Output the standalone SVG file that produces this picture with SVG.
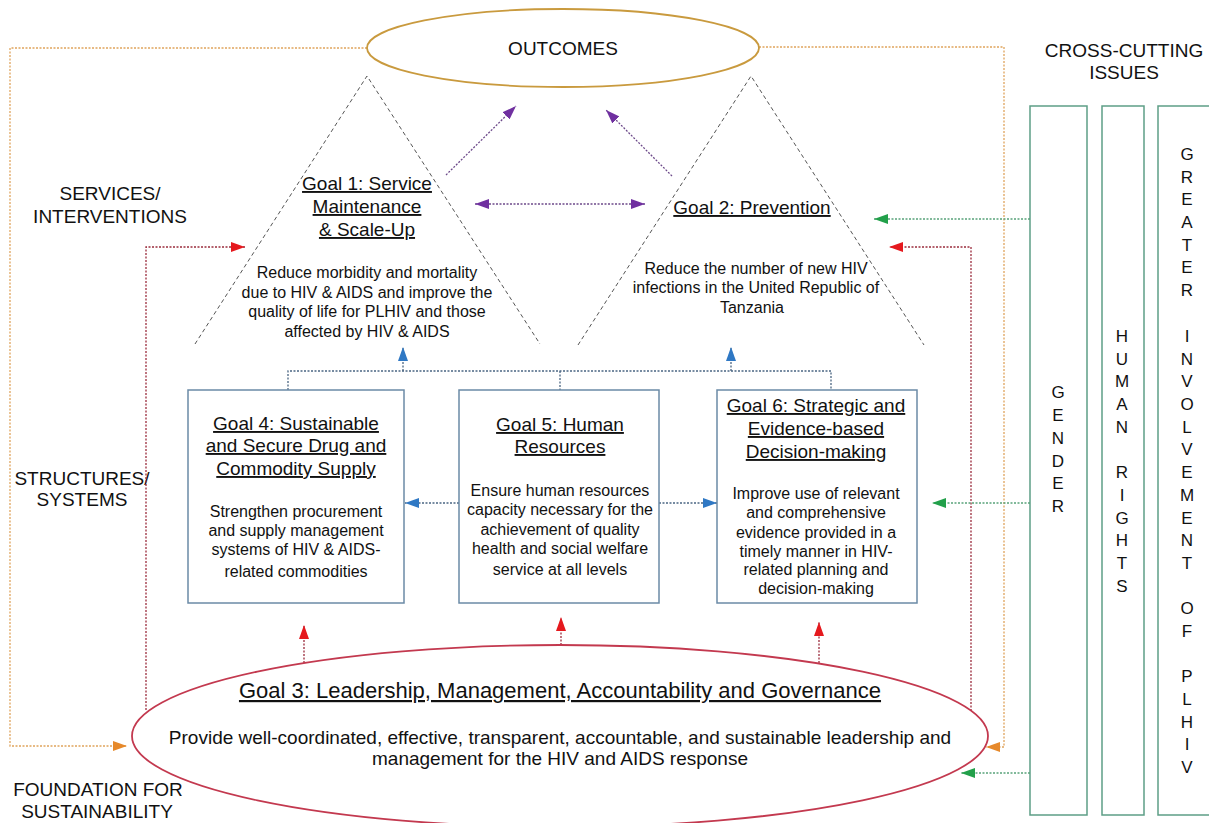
<svg xmlns="http://www.w3.org/2000/svg" width="1209" height="823" viewBox="0 0 1209 823">
  <style>
    text { font-family: "Liberation Sans", Arial, sans-serif; fill: #111; text-anchor: middle; }
    .lbl { font-size: 19px; }
    .ttl { font-size: 19px; text-decoration: underline; }
    .body { font-size: 16px; }
    .vert { font-size: 17px; }
    .tri { fill: none; stroke: #555; stroke-width: 1; stroke-dasharray: 4 3; }
    .box { fill: #fff; stroke: #6b8aa6; stroke-width: 1.5; }
    .issue { fill: #fff; stroke: #5d9e86; stroke-width: 1.5; }
    .dot { fill: none; stroke-width: 1.3; stroke-dasharray: 2 1.5; }
    .orange { stroke: #dfa45c; }
    .red { stroke: #9b2c3c; }
    .purple { stroke: #6d4a8a; }
    .blue { stroke: #4a6582; }
    .green { stroke: #58a27a; }
  </style>
  <defs>
    <marker id="ahOrange" viewBox="0 0 14 10" refX="14" refY="5" markerWidth="14" markerHeight="10" markerUnits="userSpaceOnUse" orient="auto-start-reverse">
      <path d="M0,0 L14,5 L0,10 z" fill="#e6892b"/>
    </marker>
    <marker id="ahRed" viewBox="0 0 14 10" refX="14" refY="5" markerWidth="14" markerHeight="10" markerUnits="userSpaceOnUse" orient="auto-start-reverse">
      <path d="M0,0 L14,5 L0,10 z" fill="#e5191e"/>
    </marker>
    <marker id="ahPurple" viewBox="0 0 14 10" refX="14" refY="5" markerWidth="14" markerHeight="10" markerUnits="userSpaceOnUse" orient="auto-start-reverse">
      <path d="M0,0 L14,5 L0,10 z" fill="#7030a0"/>
    </marker>
    <marker id="ahBlue" viewBox="0 0 14 10" refX="14" refY="5" markerWidth="14" markerHeight="10" markerUnits="userSpaceOnUse" orient="auto-start-reverse">
      <path d="M0,0 L14,5 L0,10 z" fill="#2f78c4"/>
    </marker>
    <marker id="ahGreen" viewBox="0 0 14 10" refX="14" refY="5" markerWidth="14" markerHeight="10" markerUnits="userSpaceOnUse" orient="auto-start-reverse">
      <path d="M0,0 L14,5 L0,10 z" fill="#22a04a"/>
    </marker>
  </defs>

  <rect x="0" y="0" width="1209" height="823" fill="#fff"/>

  <!-- side labels -->
  <g id="labels">
    <text class="lbl" x="110" y="200">SERVICES/</text>
    <text class="lbl" x="110" y="223">INTERVENTIONS</text>
    <text class="lbl" x="82" y="485">STRUCTURES/</text>
    <text class="lbl" x="82" y="506">SYSTEMS</text>
    <text class="lbl" x="98" y="796">FOUNDATION FOR</text>
    <text class="lbl" x="97" y="818">SUSTAINABILITY</text>
    <text class="lbl" x="1124" y="57">CROSS-CUTTING</text>
    <text class="lbl" x="1124" y="79">ISSUES</text>
  </g>

  <!-- cross-cutting issue columns -->
  <g id="gender">
    <rect class="issue" x="1030" y="106" width="57" height="709"/>
    <g class="vert">
      <text class="vert" x="1058" y="398">G</text>
      <text class="vert" x="1058" y="421">E</text>
      <text class="vert" x="1058" y="444">N</text>
      <text class="vert" x="1058" y="467">D</text>
      <text class="vert" x="1058" y="489">E</text>
      <text class="vert" x="1058" y="512">R</text>
    </g>
  </g>
  <g id="human-rights">
    <rect class="issue" x="1102" y="106" width="42" height="709"/>
    <text class="vert" x="1122" y="342">H</text>
    <text class="vert" x="1122" y="365">U</text>
    <text class="vert" x="1122" y="387">M</text>
    <text class="vert" x="1122" y="410">A</text>
    <text class="vert" x="1122" y="433">N</text>
    <text class="vert" x="1122" y="478">R</text>
    <text class="vert" x="1122" y="501">I</text>
    <text class="vert" x="1122" y="524">G</text>
    <text class="vert" x="1122" y="546">H</text>
    <text class="vert" x="1122" y="569">T</text>
    <text class="vert" x="1122" y="592">S</text>
  </g>
  <g id="greater-involvement">
    <rect class="issue" x="1158" y="106" width="60" height="709"/>
    <text class="vert" x="1187" y="160">G</text>
    <text class="vert" x="1187" y="183">R</text>
    <text class="vert" x="1187" y="205">E</text>
    <text class="vert" x="1187" y="228">A</text>
    <text class="vert" x="1187" y="251">T</text>
    <text class="vert" x="1187" y="273">E</text>
    <text class="vert" x="1187" y="296">R</text>
    <text class="vert" x="1187" y="342">I</text>
    <text class="vert" x="1187" y="365">N</text>
    <text class="vert" x="1187" y="387">V</text>
    <text class="vert" x="1187" y="410">O</text>
    <text class="vert" x="1187" y="433">L</text>
    <text class="vert" x="1187" y="455">V</text>
    <text class="vert" x="1187" y="478">E</text>
    <text class="vert" x="1187" y="501">M</text>
    <text class="vert" x="1187" y="524">E</text>
    <text class="vert" x="1187" y="546">N</text>
    <text class="vert" x="1187" y="569">T</text>
    <text class="vert" x="1187" y="614">O</text>
    <text class="vert" x="1187" y="637">F</text>
    <text class="vert" x="1187" y="682">P</text>
    <text class="vert" x="1187" y="705">L</text>
    <text class="vert" x="1187" y="728">H</text>
    <text class="vert" x="1187" y="750">I</text>
    <text class="vert" x="1187" y="773">V</text>
  </g>

  <!-- connectors -->
  <g id="connectors">
    <!-- outcomes loop back to the foundation -->
    <path class="dot orange" d="M367,48 H10 V746 H127" marker-end="url(#ahOrange)"/>
    <path class="dot orange" d="M759,47 H1004 V747 H986" marker-end="url(#ahOrange)"/>
    <!-- leadership feeding the service goals -->
    <path class="dot red" d="M146,710 V247 H245" marker-end="url(#ahRed)"/>
    <path class="dot red" d="M971,711 V247 H889" marker-end="url(#ahRed)"/>
    <path class="dot red" d="M304,663 V625" marker-end="url(#ahRed)"/>
    <path class="dot red" d="M561,645 V617" marker-end="url(#ahRed)"/>
    <path class="dot red" d="M819,663 V622" marker-end="url(#ahRed)"/>
    <!-- goals to outcomes -->
    <path class="dot purple" d="M446,175 L516,106" marker-end="url(#ahPurple)"/>
    <path class="dot purple" d="M672,176 L606,110" marker-end="url(#ahPurple)"/>
    <path class="dot purple" d="M475,204 H645" marker-start="url(#ahPurple)" marker-end="url(#ahPurple)"/>
    <!-- systems support the services -->
    <path class="dot blue" d="M288,390 V371 H831 V390"/>
    <path class="dot blue" d="M560,371 V390"/>
    <path class="dot blue" d="M403,371 V347" marker-end="url(#ahBlue)"/>
    <path class="dot blue" d="M731,371 V347" marker-end="url(#ahBlue)"/>
    <path class="dot blue" d="M459,503 H405" marker-end="url(#ahBlue)"/>
    <path class="dot blue" d="M659,503 H717" marker-end="url(#ahBlue)"/>
    <!-- cross-cutting issues -->
    <path class="dot green" d="M1030,219 H874" marker-end="url(#ahGreen)"/>
    <path class="dot green" d="M1030,503 H932" marker-end="url(#ahGreen)"/>
    <path class="dot green" d="M1030,773 H961" marker-end="url(#ahGreen)"/>
  </g>

  <g id="outcomes">
    <ellipse cx="563" cy="48" rx="196" ry="39" fill="none" stroke="#c99a3e" stroke-width="1.8"/>
    <text class="lbl" x="563" y="55">OUTCOMES</text>
  </g>

  <g id="goal1">
    <path class="tri" d="M195,344 L367,76 L540,344"/>
    <text class="ttl" x="367" y="190">Goal 1: Service</text>
    <text class="ttl" x="367" y="213">Maintenance</text>
    <text class="ttl" x="367" y="236"> &amp; Scale-Up</text>
    <text class="body" x="367" y="278">Reduce morbidity and mortality</text>
    <text class="body" x="367" y="298">due to HIV &amp; AIDS and improve the</text>
    <text class="body" x="367" y="317">quality of life for PLHIV and those</text>
    <text class="body" x="367" y="337">affected by HIV &amp; AIDS</text>
  </g>

  <g id="goal2">
    <path class="tri" d="M578,345 L751,76 L924,345"/>
    <text class="ttl" x="752" y="214">Goal 2: Prevention</text>
    <text class="body" x="756" y="274">Reduce the number of new HIV</text>
    <text class="body" x="756" y="293">infections in the United Republic of</text>
    <text class="body" x="752" y="313">Tanzania</text>
  </g>

  <g id="goal4">
    <rect class="box" x="188" y="390" width="216" height="213"/>
    <text class="ttl" x="296" y="430">Goal 4: Sustainable</text>
    <text class="ttl" x="296" y="452">and Secure Drug and</text>
    <text class="ttl" x="296" y="475">Commodity Supply</text>
    <text class="body" x="296" y="517">Strengthen procurement</text>
    <text class="body" x="296" y="536">and supply management</text>
    <text class="body" x="296" y="555">systems of HIV &amp; AIDS-</text>
    <text class="body" x="296" y="577">related commodities</text>
  </g>

  <g id="goal5">
    <rect class="box" x="459" y="390" width="200" height="213"/>
    <text class="ttl" x="560" y="431">Goal 5: Human</text>
    <text class="ttl" x="560" y="453">Resources</text>
    <text class="body" x="560" y="496">Ensure human resources</text>
    <text class="body" x="560" y="515">capacity necessary for the</text>
    <text class="body" x="560" y="535">achievement of quality</text>
    <text class="body" x="560" y="554">health and social welfare</text>
    <text class="body" x="560" y="575">service at all levels</text>
  </g>

  <g id="goal6">
    <rect class="box" x="717" y="390" width="200" height="213"/>
    <text class="ttl" x="816" y="412">Goal 6: Strategic and</text>
    <text class="ttl" x="816" y="435">Evidence-based</text>
    <text class="ttl" x="816" y="458">Decision-making</text>
    <text class="body" x="816" y="499">Improve use of relevant</text>
    <text class="body" x="816" y="518">and comprehensive</text>
    <text class="body" x="816" y="538">evidence provided in a</text>
    <text class="body" x="816" y="557">timely manner in HIV-</text>
    <text class="body" x="816" y="575">related planning and</text>
    <text class="body" x="816" y="594">decision-making</text>
  </g>

  <g id="goal3">
    <ellipse cx="560" cy="736" rx="428" ry="91" fill="none" stroke="#c3394f" stroke-width="1.8"/>
    <text class="ttl" x="560" y="698" style="font-size:22px">Goal 3: Leadership, Management, Accountability and Governance</text>
    <text x="560" y="744" style="font-size:19px">Provide well-coordinated, effective, transparent, accountable, and sustainable leadership and</text>
    <text x="560" y="765" style="font-size:19px">management for the HIV and AIDS response</text>
  </g>
</svg>
